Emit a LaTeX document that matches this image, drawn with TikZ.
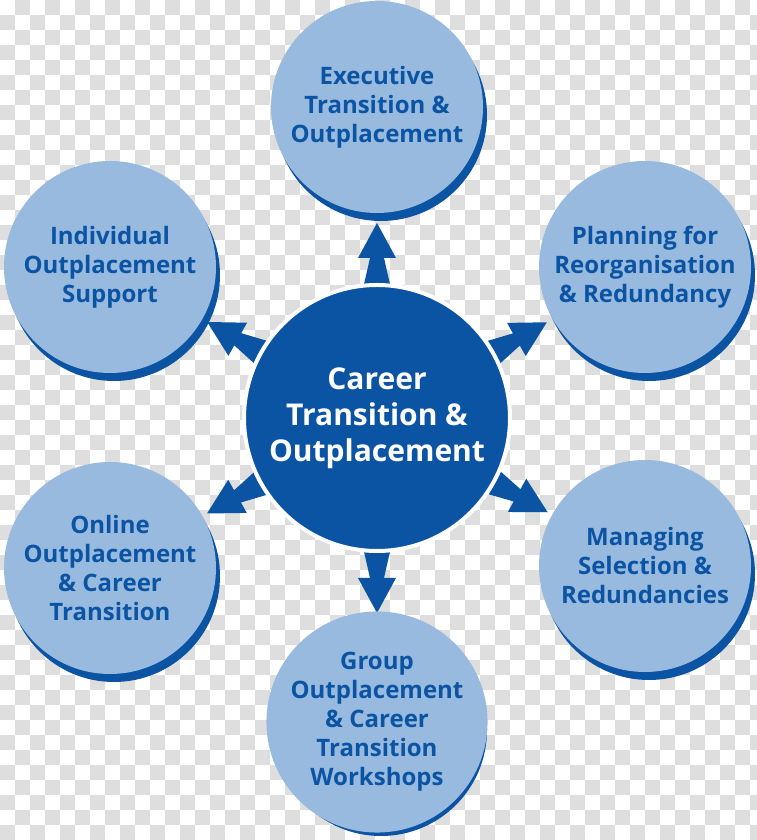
\documentclass[tikz,border=0pt]{standalone}
\usepackage{fontspec}
\setmainfont{Open Sans}
\usetikzlibrary{calc}
\definecolor{dblue}{RGB}{11,84,164}
\definecolor{lblue}{RGB}{151,186,222}
\definecolor{chk}{RGB}{222,222,222}
\pgfdeclarelayer{bg}
\pgfdeclarelayer{arr}
\pgfsetlayers{bg,arr,main}
\newcommand{\blkarrow}[2]{%
  \coordinate (s) at ($(#1.center)!125pt!(#2.center)$);
  \coordinate (m) at ($(#1.center)!160pt!(#2.center)$);
  \coordinate (e) at ($(#1.center)!195pt!(#2.center)$);
  \fill[dblue] ($(s)!15pt!90:(e)$) -- ($(m)!7pt!90:(e)$) -- ($(m)!19pt!90:(e)$) -- (e)
    -- ($(m)!19pt!-90:(e)$) -- ($(m)!7pt!-90:(e)$) -- ($(s)!15pt!-90:(e)$) -- cycle;}
\begin{document}
\begin{tikzpicture}[x=1pt,y=1pt,
  outer/.style={circle, fill=lblue, minimum size=212pt, inner sep=0pt, text=dblue,
    font=\fontsize{24}{29}\selectfont\bfseries, align=center},
  hub/.style={circle, fill=dblue, draw=white, line width=4pt, minimum size=266pt, inner sep=0pt,
    text=white, font=\fontsize{30}{36}\selectfont\bfseries, align=center},
  shade/.style={fill=dblue}]
\useasboundingbox (0,0) rectangle (757,840);
\begin{pgfonlayer}{bg}
  \clip (0,0) rectangle (757,840);
  \fill[white] (0,0) rectangle (757,840);
  \foreach \i in {0,...,50} {
    \foreach \j in {0,...,55} {
      \pgfmathtruncatemacro\s{mod(\i+\j,2)}
      \ifnum\s=1 \fill[chk] (\i*15,840-\j*15) rectangle ++(15,-15); \fi
    }
  }
\end{pgfonlayer}
\coordinate (pC) at (377,422);
\coordinate (pT) at (377,733);
\coordinate (pUR) at (645,573);
\coordinate (pLR) at (645,274);
\coordinate (pB) at (377,118);
\coordinate (pUL) at (110,573);
\coordinate (pLL) at (110,272);
\foreach \p in {pT,pUR,pLR,pB,pUL,pLL} \fill[shade] ($(\p)+(4,-8)$) circle[radius=106];
\node[outer] (T) at (pT) {Executive\\Transition \&\\Outplacement};
\node[outer] (UR) at (pUR) {Planning for\\Reorganisation\\\& Redundancy};
\node[outer] (LR) at (pLR) {Managing\\Selection \&\\Redundancies};
\node[outer] (B) at (pB) {Group\\Outplacement\\\& Career\\Transition\\Workshops};
\node[outer] (UL) at (pUL) {Individual\\Outplacement\\Support};
\node[outer] (LL) at (pLL) {Online\\Outplacement\\\& Career\\Transition};
\node[hub] (C) at (pC) {Career\\Transition \&\\Outplacement};
\begin{pgfonlayer}{arr}
  \blkarrow{C}{T}
  \blkarrow{C}{UR}
  \blkarrow{C}{LR}
  \blkarrow{C}{B}
  \blkarrow{C}{UL}
  \blkarrow{C}{LL}
\end{pgfonlayer}
\end{tikzpicture}
\end{document}
